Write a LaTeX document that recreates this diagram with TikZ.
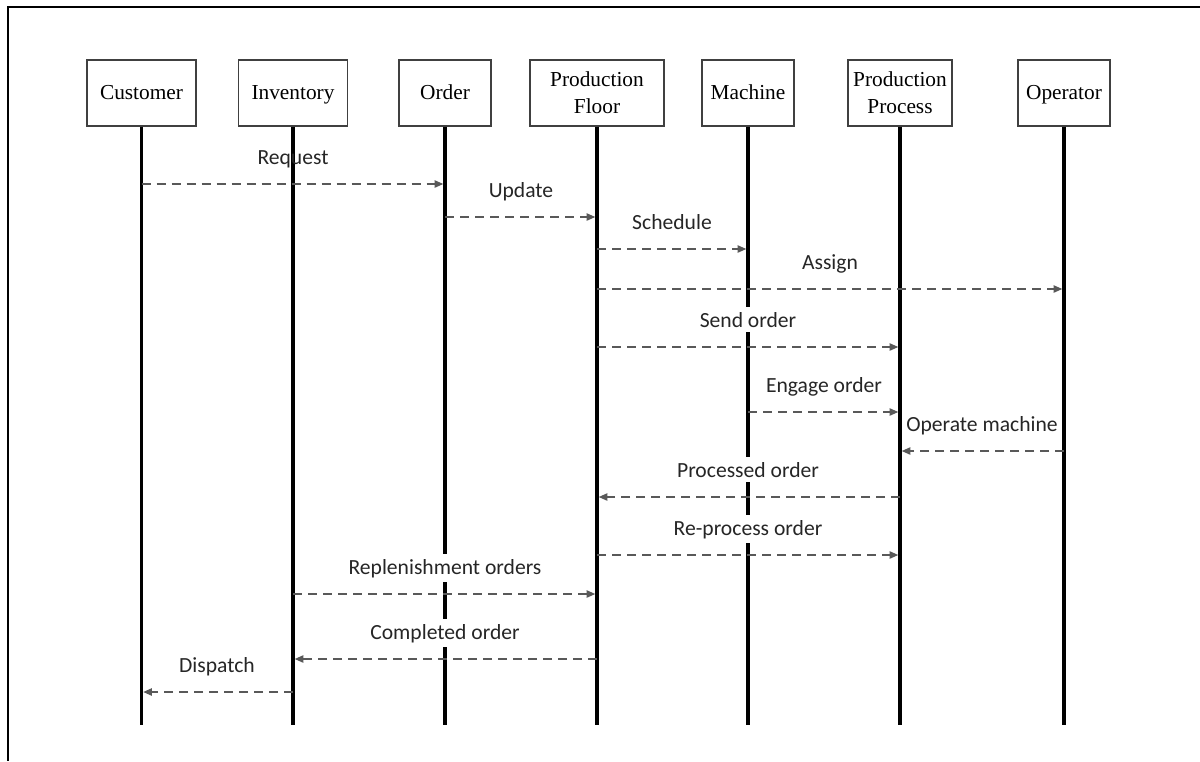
\documentclass[tikz,border=0pt]{standalone}
\usepackage{fontspec}
\setmainfont{Liberation Serif}
\newfontfamily\lblfont{Carlito}
\usetikzlibrary{arrows.meta}
\begin{document}
\begin{tikzpicture}[x=0.75pt,y=-0.75pt,
  box/.style={draw=black!75, line width=0.9pt, fill=white, minimum height=66*0.75pt,
    inner sep=1pt, align=center, font=\fontsize{16}{20.25}\selectfont},
  onel/.style={text height=12.5pt, text depth=2.5pt},
  life/.style={line width=2.3pt, black},
  msg/.style={draw=black!65, line width=1.1pt, dash pattern=on 6.75pt off 4.5pt,
    shorten >=1.3pt, -{Triangle[length=6.5pt,width=5.5pt]}},
  lbl/.style={font=\lblfont\fontsize{16.2}{19}\selectfont, text=black!85, inner sep=2pt, anchor=base},
  lblw/.style={lbl, fill=white, inner ysep=3.5pt}]
\useasboundingbox (0,0) rectangle (1200,761);
\draw[line width=1.6pt] (1200,7) -- (8,7) -- (8,761);

% participants
\node[box, onel, minimum width=109*0.75pt] (cust) at (141.5,93) {Customer};
\node[box, onel, minimum width=109*0.75pt] (inv)  at (293,93) {Inventory};
\node[box, onel, minimum width=92*0.75pt]  (ord)  at (445,93) {Order};
\node[box, minimum width=134*0.75pt] (pf)   at (597,93) {Production\\Floor};
\node[box, onel, minimum width=92*0.75pt]  (mach) at (748,93) {Machine};
\node[box, minimum width=104*0.75pt] (pp)   at (900,93) {Production\\Process};
\node[box, onel, minimum width=92*0.75pt]  (oper) at (1064,93) {Operator};

\coordinate (bot) at (0,725);

% lifelines
\foreach \p in {cust,inv,ord,pf,mach,pp,oper}
  \draw[life] (\p.south) -- (\p.south |- bot);

% labels (placed at baseline)
\node[lbl]  (lreq)  at (293,164) {Request};
\node[lbl]  (lupd)  at (521,197) {Update};
\node[lbl]  (lsch)  at (672,229) {Schedule};
\node[lbl]  (lass)  at (830,269) {Assign};
\node[lblw] (lsend) at (748,327) {Send order};
\node[lbl]  (leng)  at (824,392) {Engage order};
\node[lbl]  (lopm)  at (982,431) {Operate machine};
\node[lblw] (lproc) at (748,477) {Processed order};
\node[lblw] (lrep)  at (748,535) {Re-process order};
\node[lblw] (lrepl) at (445,574) {Replenishment orders};
\node[lblw] (lcomp) at (445,639) {Completed order};
\node[lbl]  (ldis)  at (217,672) {Dispatch};

% messages
\draw[msg] (cust |- 0,184) -- (ord |- 0,184);
\draw[msg] (ord |- 0,217) -- (pf |- 0,217);
\draw[msg] (pf |- 0,249) -- (mach |- 0,249);
\draw[msg] (pf |- 0,289) -- (oper |- 0,289);
\draw[msg] (pf |- 0,347) -- (pp |- 0,347);
\draw[msg] (mach |- 0,412) -- (pp |- 0,412);
\draw[msg] (oper |- 0,451) -- (pp |- 0,451);
\draw[msg] (pp |- 0,497) -- (pf |- 0,497);
\draw[msg] (pf |- 0,555) -- (pp |- 0,555);
\draw[msg] (inv |- 0,594) -- (pf |- 0,594);
\draw[msg] (pf |- 0,659) -- (inv |- 0,659);
\draw[msg] (inv |- 0,692) -- (cust |- 0,692);
\end{tikzpicture}
\end{document}
